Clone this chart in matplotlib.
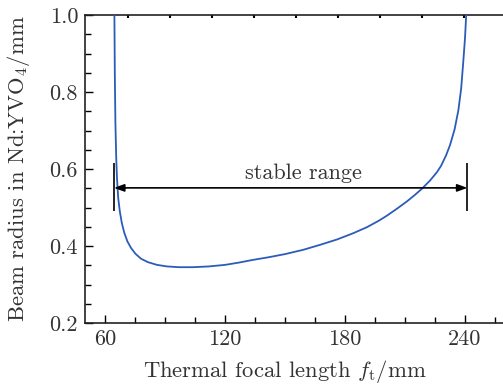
import numpy as np
import matplotlib
matplotlib.use("Agg")
import matplotlib.pyplot as plt
from matplotlib.ticker import MultipleLocator, FixedLocator

plt.rcParams['mathtext.fontset'] = 'cm'
plt.rcParams['font.family'] = 'serif'
plt.rcParams['font.serif'] = ['cmr10']
plt.rcParams['axes.formatter.use_mathtext'] = True

# curve: thermal focal length (mm) vs beam radius (mm)
f_t = [64.7, 64.9, 65.2, 65.6, 66.0, 66.6, 67.4, 68.4, 69.6, 71.2, 73.0, 75.2,
       78.0, 81.5, 86.0, 91.0, 97.0, 104.0, 112.0, 120.0, 127.0, 134.0, 142.0,
       150.0, 159.0, 167.5, 176.0, 184.0, 191.0, 197.0, 201.0, 206.0, 211.0,
       215.0, 218.5, 222.5, 226.0, 228.0, 230.5, 232.5, 234.8, 236.7, 238.1,
       239.2, 240.0, 240.6]
radius = [1.00, 0.85, 0.72, 0.63, 0.575, 0.525, 0.49, 0.46, 0.435, 0.412, 0.395,
          0.38, 0.367, 0.358, 0.351, 0.347, 0.345, 0.345, 0.347, 0.351, 0.357,
          0.364, 0.371, 0.379, 0.39, 0.403, 0.417, 0.433, 0.449, 0.466, 0.479,
          0.497, 0.516, 0.533, 0.549, 0.570, 0.592, 0.608, 0.635, 0.662, 0.703,
          0.753, 0.81, 0.883, 0.94, 1.00]

stable_lo, stable_hi = 64.5, 241.2
arrow_y = 0.551
bar_lo, bar_hi = 0.49, 0.615

xt = [60, 120, 180, 240]
yt = [0.2, 0.4, 0.6, 0.8, 1.0]
top_ticks = [71.5, 92.5, 113.5, 134.5, 155.5, 176.5, 197.5, 218.5, 239.5]

fig = plt.figure(figsize=(5.03, 3.85), dpi=100)
ax = fig.add_axes([0.169, 0.161, 0.831, 0.800])

ax.plot(f_t, radius, color='#2b5cb8', linewidth=1.3, zorder=3)

# stable range marker
ax.annotate('', xy=(stable_lo, arrow_y), xytext=(stable_hi, arrow_y),
            arrowprops=dict(arrowstyle='<|-|>,head_length=0.6,head_width=0.22',
                            color='black', lw=1.2, shrinkA=0, shrinkB=0))
ax.vlines([stable_lo, stable_hi], bar_lo, bar_hi, color='black', lw=1.2)
ax.text(159, 0.563, 'stable range', ha='center', va='bottom',
        fontsize=16, color='#333333')

ax.set_xlim(50, 259)
ax.set_ylim(0.2, 1.0)

ax.xaxis.set_major_locator(FixedLocator(xt))
ax.set_xticklabels([str(v) for v in xt])
ax.yaxis.set_major_locator(FixedLocator(yt))
ax.set_yticklabels(['%.1f' % v for v in yt])
ax.xaxis.set_minor_locator(MultipleLocator(15))
ax.yaxis.set_minor_locator(MultipleLocator(0.05))

ax.tick_params(which='both', direction='in', top=False, right=False,
               labelsize=16, labelcolor='#333333', width=1.0)
ax.tick_params(which='major', length=6, pad=5)
ax.tick_params(which='minor', length=4)
ax.spines['right'].set_visible(False)
for s in ['left', 'bottom', 'top']:
    ax.spines[s].set_linewidth(1.2)
    ax.spines[s].set_color('#222222')

sec = ax.secondary_xaxis('top')
sec.set_xticks(top_ticks)
sec.tick_params(direction='in', length=2.5, width=1.5, labeltop=False)
sec.spines['top'].set_visible(False)

ax.set_xlabel(r'Thermal focal length $f_{\mathrm{t}}$/mm',
              fontsize=16.3, color='#333333')
ax.set_ylabel(r'Beam radius in Nd:YVO$_4$/mm',
              fontsize=16.3, color='#333333')
ax.xaxis.set_label_coords(0.478, -0.115)
ax.yaxis.set_label_coords(-0.126, 0.5)

fig.savefig('out.png', dpi=100)
